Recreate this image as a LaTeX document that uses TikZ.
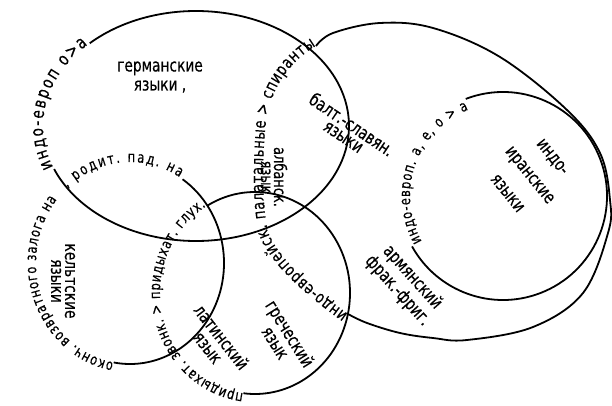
\documentclass[tikz,border=0pt]{standalone}
\usepackage{fontspec}
\setmainfont[FakeStretch=0.85, FakeBold=0.4]{DejaVu Sans Condensed}
\usetikzlibrary{decorations.text}

\begin{document}
\begin{tikzpicture}[x=1pt,y=1pt,
    isogloss/.style={line width=1.8pt},
    lang/.style={align=center, inner sep=0pt, font=\fontsize{18}{17}\selectfont},
    arctext/.style 2 args={decorate, decoration={text along path, text align=fit to path,
        text={|\fontsize{#1}{#1}\selectfont|#2}}}]
    \useasboundingbox (0,0) rectangle (612,405);

    \coordinate (germc) at (196,279);
    \coordinate (celtc) at (130,142);
    \coordinate (grlc) at (255,112);
    \coordinate (iirc) at (503,209);

    % germanic
    \draw[isogloss] ([shift={(134:153 and 115)}]germc) arc[start angle=134, end angle=-158, x radius=153, y radius=115];
    \path[arctext={18}{индо-европ о>а}] ([shift={(201:153 and 115)}]germc) arc[start angle=201, end angle=135, x radius=153, y radius=115];

    % celtic
    \draw[isogloss] ([shift={(56:94 and 101)}]celtc) arc[start angle=56, end angle=-100, x radius=94, y radius=101];
    \path[arctext={15}{оконч. возвратного залога на}] ([shift={(260:94 and 101)}]celtc) arc[start angle=260, end angle=141, x radius=94, y radius=101];
    \path[arctext={15}{, родит. пад. на}] ([shift={(132:94 and 101)}]celtc) arc[start angle=132, end angle=58, x radius=94, y radius=101];

    % greek + latin
    \draw[isogloss] ([shift={(120:95 and 101)}]grlc) arc[start angle=120, end angle=-97, x radius=95, y radius=101];
    \path[arctext={15}{придыхат. звонк. > придыхат. глух.}] ([shift={(263:95 and 101)}]grlc) arc[start angle=263, end angle=121, x radius=95, y radius=101];

    % indo-iranian
    \draw[isogloss] ([shift={(111:104)}]iirc) arc[start angle=111, end angle=-151, radius=104];
    \path[arctext={15}{индо-европ. а, е, о > а}, decoration={raise=-11pt}] ([shift={(209:104)}]iirc) arc[start angle=209, end angle=112, radius=104];

    % satem
    \draw[isogloss] plot[smooth, tension=0.6] coordinates {(316,359) (333,372) (380,382) (433,377) (500,348) (567,295) (600,252) (610,205) (608,172) (583,112) (533,78) (467,65) (433,67) (400,72) (367,82) (348,91)};
    \path[arctext={17}{индо-европейск. палатальные > спиранты}] (348,91) .. controls (318,113) and (280,143) .. (268,173)
        .. controls (262,200) and (262,245) .. (266,285) .. controls (272,320) and (292,345) .. (316,359);

    \node[lang, font=\fontsize{18}{19}\selectfont] (germ) at (160,328) {германские\\языки ,};
    \node[lang, rotate=-34, font=\fontsize{18}{14}\selectfont] (balt) at (348,275) {балт.-славян.\\языки};
    \node[lang, rotate=-90, font=\fontsize{17}{13}\selectfont] (alb) at (274,228) {албанск.\\язык};
    \node[lang, rotate=-90, font=\fontsize{18}{14}\selectfont] (celt) at (63,124) {кельтские\\языки};
    \node[lang, rotate=-52] (lat) at (215,63) {латинский\\язык};
    \node[lang, rotate=-58] (greek) at (283,67) {греческий\\язык};
    \node[lang, rotate=-48, font=\fontsize{18}{20}\selectfont] (arm) at (405,121) {армянский\\фрак.-фриг.};
    \node[lang, rotate=-51, font=\fontsize{18}{29}\selectfont] (indoir) at (530,230) {индо-\\иранские\\языки};
\end{tikzpicture}
\end{document}
